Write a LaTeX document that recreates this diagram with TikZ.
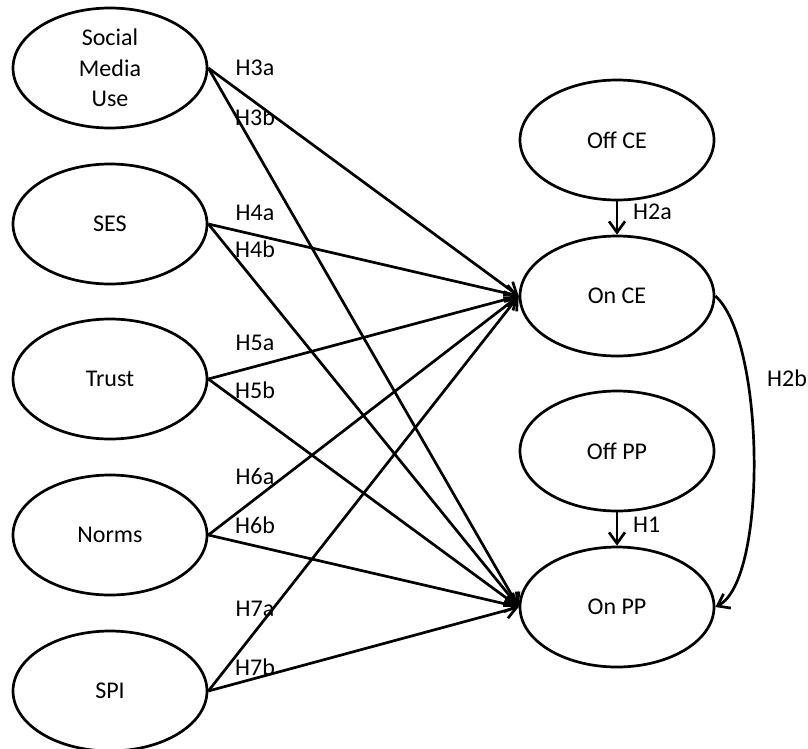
\documentclass[tikz,border=0pt]{standalone}
\usepackage{fontspec}
\setmainfont{Carlito}
\usetikzlibrary{arrows.meta,shapes.geometric}
\begin{document}
\begin{tikzpicture}[x=1pt,y=-1pt,
  var/.style={draw,ellipse,line width=2.7pt,minimum width=194pt,minimum height=120pt,inner sep=0pt,align=center,font=\fontsize{24}{30.5}\selectfont},
  hyp/.style={font=\fontsize{24}{28}\selectfont,inner sep=0pt},
  link/.style={line width=2.7pt,-{Straight Barb[length=11pt,width=16pt,line width=2.7pt]}}]
\useasboundingbox (0,0) rectangle (808,748);
\node[var] (smu) at (110,68) {Social\\Media\\Use};
\node[var] (ses) at (110,224) {SES};
\node[var] (trust) at (110,379) {Trust};
\node[var] (norms) at (110,535) {Norms};
\node[var] (spi) at (110,691) {SPI};
\node[var] (offce) at (617,140) {Off CE};
\node[var] (once) at (617,296) {On CE};
\node[var] (offpp) at (617,451) {Off PP};
\node[var] (onpp) at (617,607) {On PP};
\foreach \s in {smu,ses,trust,norms,spi}{
  \draw[link] (\s.east) -- (once.west);
  \draw[link] (\s.east) -- (onpp.west);
}
\draw[link] (offce.south) -- (once.north);
\draw[link] (offpp.south) -- (onpp.north);
\draw[link] (once.east) .. controls (765,340) and (768,580) .. (onpp.east);
\node[hyp] (l3a) at (255,68) {H3a};
\node[hyp] (l3b) at (255,117) {H3b};
\node[hyp] (l4a) at (255,213) {H4a};
\node[hyp] (l4b) at (255,249) {H4b};
\node[hyp] (l5a) at (255,343) {H5a};
\node[hyp] (l5b) at (255,390) {H5b};
\node[hyp] (l6a) at (255,476) {H6a};
\node[hyp] (l6b) at (255,525) {H6b};
\node[hyp] (l7a) at (255,609) {H7a};
\node[hyp] (l7b) at (255,667) {H7b};
\node[hyp,anchor=west] (l2a) at (633,212) {H2a};
\node[hyp,anchor=west] (l1) at (633,525) {H1};
\node[hyp] (l2b) at (787,378) {H2b};
\end{tikzpicture}
\end{document}
